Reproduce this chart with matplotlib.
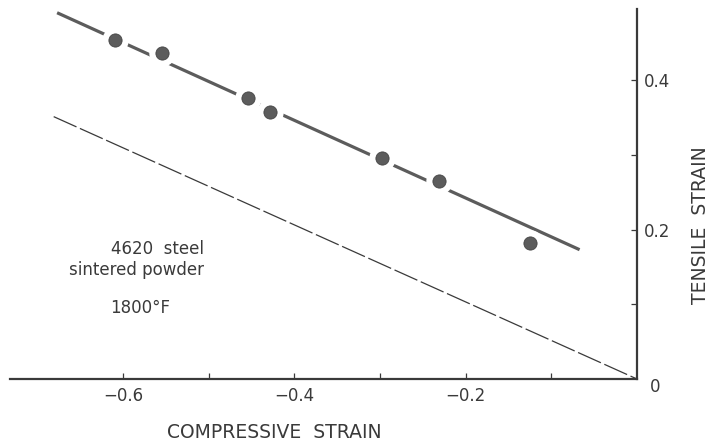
import numpy as np
import matplotlib
matplotlib.use('Agg')
import matplotlib.pyplot as plt

plt.rcParams.update({'font.family': 'DejaVu Sans', 'font.size': 11})

INK, DOT = '#3a3a3a', '#5c5c5c'

# measured points (compressive strain is negative)
comp_strain = [-0.609, -0.554, -0.454, -0.429, -0.298, -0.231, -0.125]
tens_strain = [0.454, 0.436, 0.376, 0.357, 0.296, 0.265, 0.182]

# fitted line through the points
fit_x = [-0.677, -0.067]
fit_y = [0.490, 0.173]

# reference dashed line to the origin
ref_x = [-0.681, 0.0]
ref_y = [0.351, 0.0]

x_major = [-0.6, -0.4, -0.2]
x_minor = [-0.5, -0.3, -0.1]
y_major = [0.2, 0.4]
y_minor = [0.1, 0.3]

fig = plt.figure(figsize=(7.13, 4.46), dpi=100)
ax = fig.add_axes([10 / 713, 1 - 379 / 446, 627 / 713, 370 / 446])
ax.set_xlim(-0.732, 0.0)
ax.set_ylim(0.0, 0.495)

ax.plot(ref_x, ref_y, color=INK, lw=0.9, dashes=(20, 3), zorder=2)
ax.plot(fit_x, fit_y, color=DOT, lw=2.3, solid_capstyle='butt', zorder=3)
# white halo breaks the line around each point
ax.plot(comp_strain, tens_strain, 'o', ms=19, color='white', mec='none', zorder=4)
ax.plot(comp_strain, tens_strain, 'o', ms=9.5, color=DOT, mec='#444444', mew=0.6, zorder=5)

for s in ['left', 'top']:
    ax.spines[s].set_visible(False)
for s in ['right', 'bottom']:
    ax.spines[s].set_linewidth(1.6)
    ax.spines[s].set_color(INK)

ax.yaxis.tick_right()
ax.set_xticks(x_major)
ax.set_xticks(x_minor, minor=True)
ax.set_xticklabels([f'{v:.1f}'.replace('-', '\u2212') for v in x_major])
ax.set_yticks(y_major)
ax.set_yticks(y_minor, minor=True)
ax.set_yticklabels([f'{v:.1f}' for v in y_major])
ax.tick_params(which='both', direction='in', length=4, width=0.9, color=INK,
               labelcolor=INK, labelsize=12)
ax.tick_params(axis='x', pad=6)
ax.tick_params(axis='y', pad=5)

ax.text(0.021, -0.011, '0', ha='center', va='center', fontsize=12, color=INK,
        clip_on=False)

ax.text(-0.505, 0.174, '4620  steel', ha='right', va='center', fontsize=12, color=INK)
ax.text(-0.505, 0.146, 'sintered powder', ha='right', va='center', fontsize=12, color=INK)
ax.text(-0.58, 0.095, '1800\u00b0F', ha='center', va='center', fontsize=12, color=INK)

fig.text(274 / 713, 1 - 432 / 446, 'COMPRESSIVE  STRAIN', ha='center', va='center',
         fontsize=13.5, color=INK)
fig.text(700 / 713, 1 - 225 / 446, 'TENSILE  STRAIN', ha='center', va='center',
         rotation=90, fontsize=13.5, color=INK)

plt.savefig('out.png', dpi=100)
plt.close()
